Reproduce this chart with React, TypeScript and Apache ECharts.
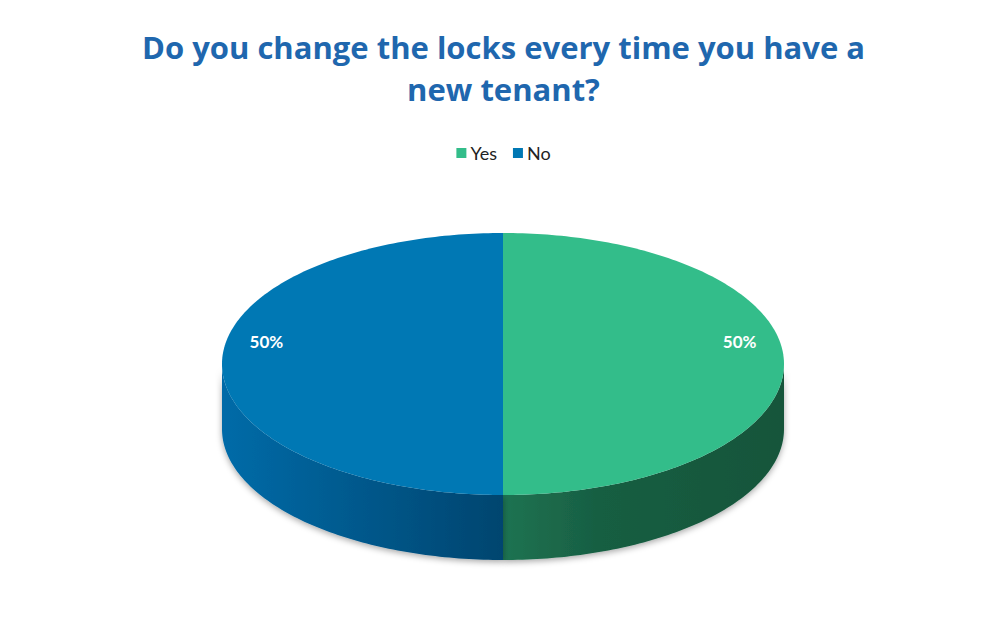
import React, { useEffect, useRef } from "react";
import * as echarts from "echarts";

const categories = ["Yes", "No"];
const values = [50, 50];
const topColors = ["#33BD8A", "#0078B4"];
const sideStops = [
  [
    [0, "#1F7352"],
    [0.35, "#175E42"],
    [1, "#14553A"],
  ],
  [
    [0, "#006BA8"],
    [1, "#00456F"],
  ],
];

const TITLE = "Do you change the locks every time you have a\nnew tenant?";

export default function App() {
  const ref = useRef<HTMLDivElement>(null);
  useEffect(() => {
    document.body.style.margin = "0";
    const chart = echarts.init(ref.current!, null, { renderer: "svg" });
    const total = values.reduce((a, b) => a + b, 0);
    const starts: number[] = [];
    let acc = 0;
    values.forEach((v) => {
      starts.push(acc);
      acc += v;
    });

    const makeRender = (si: number) => (params: any, api: any) => {
      const W = api.getWidth();
      const cx = W / 2 - 0.5;
      const cy = 364;
      const rx = 281;
      const ry = 131;
      const depth = 65;
      const t0 = -Math.PI / 2 + (starts[si] / total) * Math.PI * 2;
      const t1 = -Math.PI / 2 + ((starts[si] + values[si]) / total) * Math.PI * 2;
      const pt = (t: number, dy = 0) => [cx + rx * Math.cos(t), cy + ry * Math.sin(t) + dy];
      const N = 90;
      const children: any[] = [];
      const segs: [number, number][] = [];
      const ranges: [number, number][] = [
        [0, Math.PI],
        [2 * Math.PI, 3 * Math.PI],
        [-2 * Math.PI, -Math.PI],
      ];
      ranges.forEach(([a, b]) => {
        const s = Math.max(a, t0);
        const e = Math.min(b, t1);
        if (e > s) segs.push([s, e]);
      });
      segs.forEach(([s, e]) => {
        const top: number[][] = [];
        const bot: number[][] = [];
        for (let i = 0; i <= N; i++) {
          const t = s + ((e - s) * i) / N;
          top.push(pt(t));
          bot.push(pt(t, depth));
        }
        children.push({
          type: "polygon",
          shape: { points: top.concat(bot.reverse()) },
          style: {
            fill: {
              type: "linear",
              x: 0,
              y: 0,
              x2: 1,
              y2: 0,
              colorStops: sideStops[si].map(([o, c]) => ({ offset: o, color: c })),
            },
            shadowBlur: 6,
            shadowColor: "rgba(0,0,0,0.35)",
            shadowOffsetY: 2,
          },
        });
      });
      const pts: number[][] = [[cx, cy]];
      for (let i = 0; i <= N * 2; i++) {
        pts.push(pt(t0 + ((t1 - t0) * i) / (N * 2)));
      }
      children.push({
        type: "polygon",
        shape: { points: pts },
        style: { fill: topColors[si] },
      });
      const mid = (t0 + t1) / 2;
      const pct = Math.round((values[si] / total) * 100) + "%";
      children.push({
        type: "text",
        x: cx + rx * 0.842 * Math.cos(mid),
        y: cy + ry * 0.842 * Math.sin(mid) - 23,
        style: {
          text: pct,
          fill: "#FFFFFF",
          font: "bold 17px Lato, 'Open Sans', sans-serif",
          align: "center",
          verticalAlign: "middle",
        },
      });
      return { type: "group", children };
    };

    chart.setOption({
      animation: false,
      backgroundColor: "#FFFFFF",
      title: {
        text: TITLE,
        left: "center",
        top: 21,
        textStyle: {
          color: "#1F67AE",
          fontFamily: "'Open Sans', Lato, sans-serif",
          fontWeight: "bold",
          fontSize: 31,
          lineHeight: 42,
        },
      },
      legend: {
        data: categories,
        top: 139,
        left: "center",
        icon: "rect",
        itemWidth: 10,
        itemHeight: 10,
        itemGap: 16,
        itemStyle: { borderWidth: 0 },
        textStyle: {
          color: "#222222",
          fontFamily: "Lato, 'Open Sans', sans-serif",
          fontSize: 18,
          padding: [0, 0, 0, -1],
        },
        selectedMode: false,
      },
      series: categories.map((name, si) => ({
        type: "custom",
        name,
        coordinateSystem: "none",
        itemStyle: { color: topColors[si] },
        data: [[values[si]]],
        renderItem: makeRender(si),
        silent: true,
      })),
    });
    return () => chart.dispose();
  }, []);
  return <div ref={ref} style={{ width: 1007, height: 635 }} />;
}
